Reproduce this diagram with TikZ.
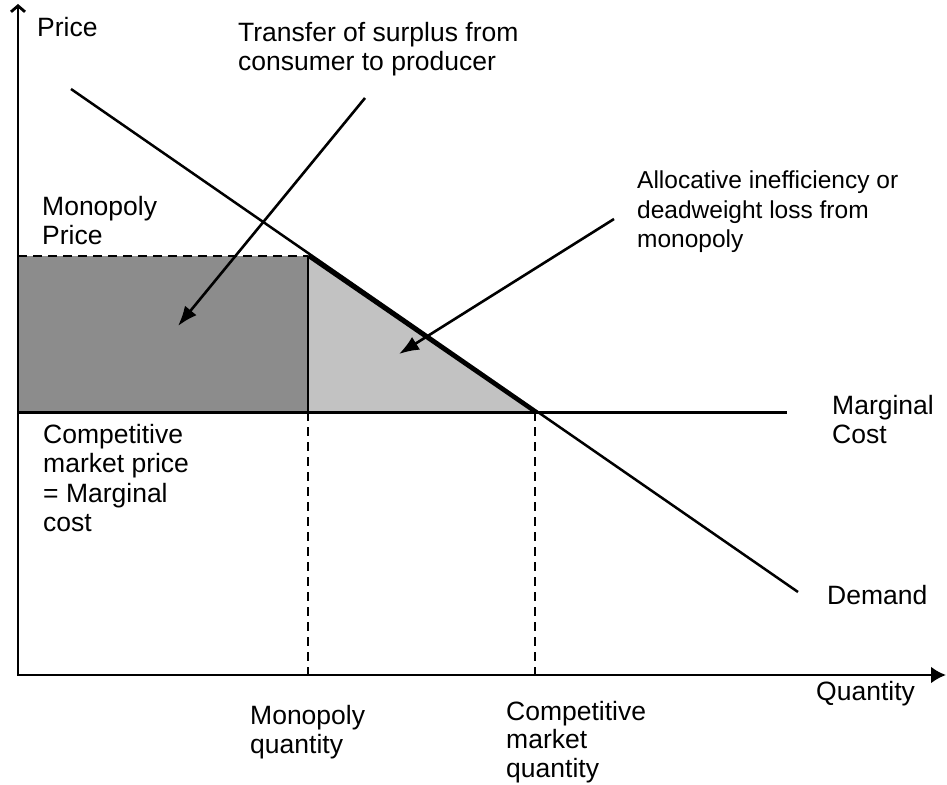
\documentclass[tikz,border=0pt]{standalone}
\usepackage{fontspec}
\setmainfont{Liberation Sans}
\usetikzlibrary{arrows.meta}
\begin{document}
\begin{tikzpicture}[x=1pt,y=-1pt,
  lbl/.style={anchor=north west,inner sep=0pt,align=left,font=\fontsize{26.5}{29.5}\selectfont},
  guide/.style={black,line width=2.6pt,dash pattern=on 9pt off 6pt},
  pointer/.style={line width=2.6pt,-{Latex[length=20pt,width=15pt]}}]
  \useasboundingbox[fill=white] (0,0) rectangle (947,784);
  % axes and key points
  \coordinate (O) at (18,675);
  \coordinate (ytop) at (18,4);
  \coordinate (xend) at (946,675);
  \coordinate (pm) at (18,256);
  \coordinate (pc) at (18,412);
  \coordinate (M) at (308,256);
  \coordinate (Mc) at (308,412);
  \coordinate (C) at (535,412);
  \coordinate (qm) at (308,675);
  \coordinate (qc) at (535,675);
  \coordinate (d0) at (71,89);
  \coordinate (d1) at (798,592);
  \coordinate (mcend) at (787,412);

  % shaded areas
  \fill[black!45] (pm) rectangle (Mc);
  \fill[black!24] (M) -- (C) -- (Mc) -- cycle;

  \draw[guide] (pm) -- (M);
  \draw[guide] (Mc) -- (qm);
  \draw[guide] (C) -- (qc);
  \draw[line width=2.6pt] (M) -- (Mc);
  \draw[line width=3pt] (pc) -- (mcend);
  \draw[line width=2.5pt] (d0) -- (d1);
  \draw[line width=3.4pt] (M) -- (C);

  \draw[line width=2.8pt,{Straight Barb[length=6pt,width=14pt]}-{Latex[length=15pt,width=17pt]}] (ytop) -- (O) -- (xend);

  % labels
  \node[lbl] (price) at (37,17) {Price};
  \node[lbl] (transfer) at (238,22) {Transfer of surplus from\\consumer to producer};
  \node[lbl] (mprice) at (42,196) {Monopoly\\Price};
  \node[lbl,font=\fontsize{24.5}{29.5}\selectfont] (alloc) at (637,171) {Allocative inefficiency or\\deadweight loss from\\monopoly};
  \node[lbl] (mcost) at (832,395) {Marginal\\Cost};
  \node[lbl] (cprice) at (43,424) {Competitive\\market price\\= Marginal\\cost};
  \node[lbl] (demand) at (827,585) {Demand};
  \node[lbl] (quantity) at (816,681) {Quantity};
  \node[lbl] (mqty) at (250,705) {Monopoly\\quantity};
  \node[lbl,font=\fontsize{26.5}{28.5}\selectfont] (cqty) at (506,701) {Competitive\\market\\quantity};

  % pointers
  \coordinate (t1) at (365,98);
  \coordinate (h1) at (178,326);
  \coordinate (t2) at (614,219);
  \coordinate (h2) at (399,354);
  \draw[pointer] (t1) -- (h1);
  \draw[pointer] (t2) -- (h2);
\end{tikzpicture}
\end{document}
